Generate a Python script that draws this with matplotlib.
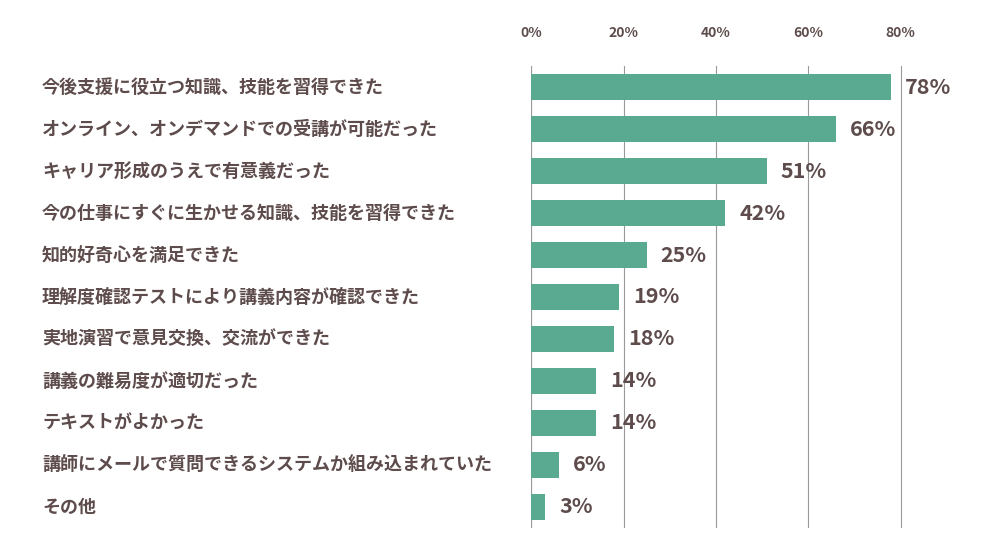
import matplotlib
matplotlib.use("Agg")
import matplotlib.pyplot as plt
from matplotlib.transforms import blended_transform_factory

plt.rcParams['font.family'] = ['Noto Sans CJK JP', 'DejaVu Sans']

categories = [
    "今後支援に役立つ知識、技能を習得できた",
    "オンライン、オンデマンドでの受講が可能だった",
    "キャリア形成のうえで有意義だった",
    "今の仕事にすぐに生かせる知識、技能を習得できた",
    "知的好奇心を満足できた",
    "理解度確認テストにより講義内容が確認できた",
    "実地演習で意見交換、交流ができた",
    "講義の難易度が適切だった",
    "テキストがよかった",
    "講師にメールで質問できるシステムか組み込まれていた",
    "その他",
]
values = [78, 66, 51, 42, 25, 19, 18, 14, 14, 6, 3]
ticks = [0, 20, 40, 60, 80]

text_color = "#5e4c4c"
bar_color = "#5aaa92"

fig = plt.figure(figsize=(9.95, 5.51), dpi=100)
ax = fig.add_axes([0.534, 0.042, 0.464, 0.838])

y = list(range(len(categories)))
ax.barh(y, values, height=0.62, color=bar_color, zorder=2)
ax.set_ylim(len(categories) - 0.5, -0.5)
ax.set_xlim(0, 100)

ax.set_xticks(ticks)
ax.set_xticklabels([f"{t}%" for t in ticks], color=text_color, fontsize=10, fontweight="bold")
ax.xaxis.tick_top()
ax.tick_params(axis="x", length=0, pad=19)
ax.set_yticks([])
ax.grid(axis="x", color="#999999", linewidth=0.8, zorder=1)
for s in ax.spines.values():
    s.set_visible(False)
ax.axvline(0, color="#999999", linewidth=0.8, zorder=1)

trans = blended_transform_factory(fig.transFigure, ax.transData)
for yi, cat, v in zip(y, categories, values):
    ax.text(42 / 995, yi, cat, transform=trans, ha="left", va="center",
            fontsize=13, fontweight="bold", color=text_color)
    ax.text(v + 3.0, yi, f"{v}%", ha="left", va="center",
            fontsize=15.5, fontweight="bold", color=text_color)

fig.savefig("out.png", dpi=100)
